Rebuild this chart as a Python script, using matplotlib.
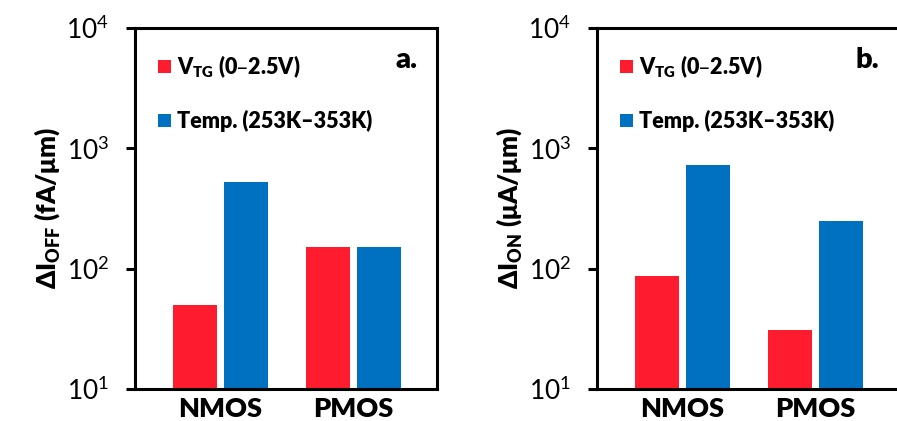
import matplotlib
matplotlib.use("Agg")
import matplotlib.pyplot as plt
import numpy as np

categories = ["NMOS", "PMOS"]
series_names = [r"V$_{\mathregular{TG}}$ (0–2.5V)", "Temp. (253K–353K)"]
ioff_vtg = [50, 152]
ioff_temp = [525, 152]
ion_vtg = [87, 31]
ion_temp = [728, 249]
ytick_vals = [10, 100, 1000, 10000]
ytick_labels = [r"$\mathregular{10^{1}}$", r"$\mathregular{10^{2}}$",
                r"$\mathregular{10^{3}}$", r"$\mathregular{10^{4}}$"]
ylabels = [r"ΔI$_{\mathregular{OFF}}$ (fA/μm)", r"ΔI$_{\mathregular{ON}}$ (μA/μm)"]
panel_tags = ["a.", "b."]

RED = "#FF1C2E"
BLUE = "#0070C0"
FAM = ["Lato", "DejaVu Sans"]
plt.rcParams["font.family"] = FAM
BW = "heavy"

fig = plt.figure(figsize=(8.97, 4.21), dpi=100)
W, H = 897, 421
positions = [135, 597]
data = [(ioff_vtg, ioff_temp), (ion_vtg, ion_temp)]

x = np.arange(len(categories))
bw = 0.331
off = 0.192
for i, left in enumerate(positions):
    ax = fig.add_axes([left / W, (H - 389) / H, 302 / W, 361 / H])
    v1, v2 = data[i]
    ax.bar(x - off, v1, bw, color=RED, label=series_names[0], zorder=2)
    ax.bar(x + off, v2, bw, color=BLUE, label=series_names[1], zorder=2)
    ax.set_yscale("log")
    ax.set_ylim(10, 10000)
    ax.set_xlim(-0.643, 1.628)
    ax.set_yticks(ytick_vals)
    ax.set_yticklabels(ytick_labels)
    ax.yaxis.set_minor_locator(matplotlib.ticker.NullLocator())
    ax.set_xticks(x)
    ax.set_xticklabels(categories, fontsize=19.5, fontweight=BW)
    ax.tick_params(axis="x", length=0, pad=6)
    ax.tick_params(axis="y", direction="out", length=6.5, width=2.2, pad=12, labelsize=19)
    for s in ax.spines.values():
        s.set_linewidth(2.2)
    ax.set_ylabel(ylabels[i], fontsize=18.5, fontweight=BW, labelpad=3)
    leg = ax.legend(loc="upper left", bbox_to_anchor=(0.076, 0.93), frameon=False,
                    prop={"family": FAM, "weight": BW, "size": 15.5},
                    handlelength=0.6, handleheight=0.6, handletextpad=0.3,
                    labelspacing=1.4, borderpad=0, borderaxespad=0)
    ax.text(0.934, 0.91, panel_tags[i], transform=ax.transAxes, ha="right", va="center",
            fontsize=21, fontweight=BW)

fig.savefig("out.png", dpi=100)
